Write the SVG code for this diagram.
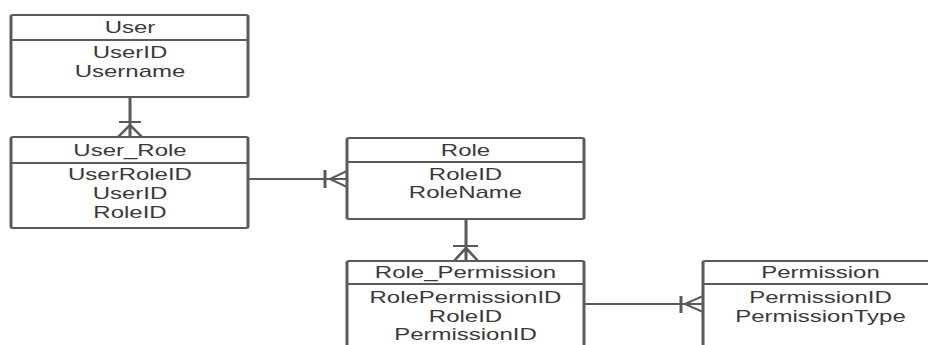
<svg xmlns="http://www.w3.org/2000/svg" width="928" height="345" viewBox="0 0 928 345">
<style>
.box{fill:#fff;stroke:#5a5a5a;stroke-width:2}
.sep{stroke:#5a5a5a;stroke-width:2}
.ln{fill:none;stroke:#5a5a5a;stroke-width:2}
text{font-family:"Liberation Sans",Arial,sans-serif;font-size:16px;fill:#3a3a3a;text-anchor:middle}
</style>
<rect width="928" height="345" fill="#fff"/>
<g transform="scale(1.5 1)">
<g id="connectors">
<path class="ln" d="M86.67 97V137M79.33 122H94M78.67 137L86.67 125L94.67 137M86.67 125V137"/>
<path class="ln" d="M165.33 179H231.33M216.67 170V188M231.33 171L220 179L231.33 187"/>
<path class="ln" d="M310.67 219V261M302 246H318.67M302.67 261L310.67 248L318.67 261"/>
<path class="ln" d="M389.33 304H468.67M454 296V313M468.67 296L456.67 304L468.67 312"/>
</g>
<g id="User">
<rect class="box" x="7.33" y="15" width="158" height="82" rx="1.5"/>
<line class="sep" x1="7.33" y1="40" x2="165.33" y2="40"/>
<text x="86.67" y="33">User</text>
<text x="86.67" y="58">UserID</text>
<text x="86.67" y="77">Username</text>
</g>
<g id="User_Role">
<rect class="box" x="7.33" y="137" width="158" height="91" rx="1.5"/>
<line class="sep" x1="7.33" y1="163" x2="165.33" y2="163"/>
<text x="86.67" y="156">User_Role</text>
<text x="86.67" y="180">UserRoleID</text>
<text x="86.67" y="199">UserID</text>
<text x="86.67" y="218">RoleID</text>
</g>
<g id="Role">
<rect class="box" x="231.33" y="138" width="158" height="81" rx="1.5"/>
<line class="sep" x1="231.33" y1="162" x2="389.33" y2="162"/>
<text x="310.33" y="156">Role</text>
<text x="310.33" y="180">RoleID</text>
<text x="310.33" y="198">RoleName</text>
</g>
<g id="Role_Permission">
<rect class="box" x="231.33" y="261" width="158" height="100" rx="1.5"/>
<line class="sep" x1="231.33" y1="284" x2="389.33" y2="284"/>
<text x="310.33" y="278">Role_Permission</text>
<text x="310.33" y="303">RolePermissionID</text>
<text x="310.33" y="322">RoleID</text>
<text x="310.33" y="340">PermissionID</text>
</g>
<g id="Permission">
<rect class="box" x="468.67" y="261" width="158" height="100" rx="1.5"/>
<line class="sep" x1="468.67" y1="284" x2="626.67" y2="284"/>
<text x="547" y="278">Permission</text>
<text x="547" y="303">PermissionID</text>
<text x="547" y="322">PermissionType</text>
</g>
</g>
</svg>
